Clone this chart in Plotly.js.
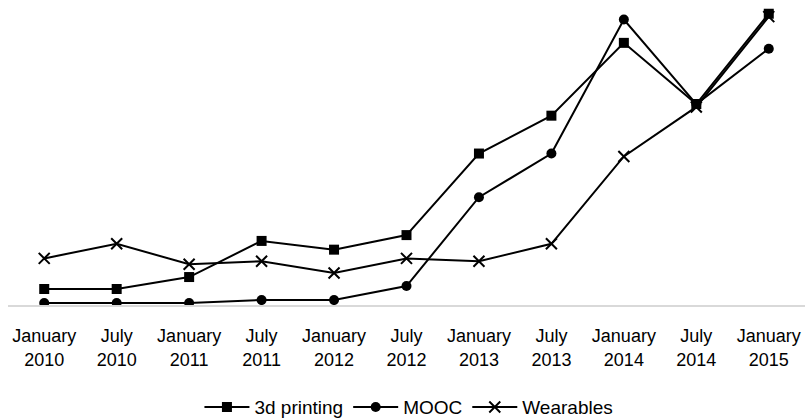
<!DOCTYPE html>
<html><head><meta charset="utf-8">
<script src="https://cdn.plot.ly/plotly-3.0.1.min.js"></script>
<style>html,body{margin:0;padding:0;background:#fff}#chart{width:805px;height:418px}</style>
</head><body><div id="chart"></div>
<script>
const categories = ["January<br>2010","July<br>2010","January<br>2011","July<br>2011","January<br>2012","July<br>2012","January<br>2013","July<br>2013","January<br>2014","July<br>2014","January<br>2015"];
const printing3d = [5.5, 5.5, 9.6, 22, 19, 24, 52, 65, 90, 69, 100];
const mooc = [0.7, 0.7, 0.7, 1.7, 1.7, 6.5, 37, 52, 98, 69, 88];
const wearables = [16, 21, 14, 15, 11, 16, 15, 21, 51, 68, 99];

const font = {family: "'Liberation Sans', Arial, sans-serif", size: 18, color: '#000'};
const legendFont = {family: "'Liberation Sans', Arial, sans-serif", size: 19, color: '#000'};
const line = {color: '#000', width: 2};
const traces = [
  {x: categories, y: printing3d, name: '3d printing', type: 'scatter', mode: 'lines+markers', line: line, marker: {symbol: 'square', size: 10, color: '#000'}},
  {x: categories, y: mooc, name: 'MOOC', type: 'scatter', mode: 'lines+markers', line: line, marker: {symbol: 'circle', size: 10, color: '#000'}},
  {x: categories, y: wearables, name: 'Wearables', type: 'scatter', mode: 'lines+markers', line: line, marker: {symbol: 'x-thin-open', size: 11, color: '#000', line: {color: '#000', width: 2}}}
];
const layout = {
  width: 805, height: 418,
  margin: {l: 8, r: 0, t: 5, b: 113, autoexpand: false},
  paper_bgcolor: '#fff', plot_bgcolor: '#fff',
  font: font,
  showlegend: true,
  legend: {orientation: 'h', x: 0.508, xanchor: 'center', xref: 'container', y: 0.026, yref: 'container', yanchor: 'middle', font: legendFont, itemwidth: 45},
  xaxis: {type: 'category', range: [-0.5, 10.5], showline: true, linecolor: '#d9d9d9', linewidth: 1.5, showgrid: false, zeroline: false, ticks: '', ticklabelstandoff: 14, tickfont: font, fixedrange: true},
  yaxis: {range: [0, 103], showline: false, showgrid: false, zeroline: false, showticklabels: false, ticks: '', fixedrange: true}
};
Plotly.newPlot('chart', traces, layout, {displayModeBar: false, staticPlot: true});
</script></body></html>
